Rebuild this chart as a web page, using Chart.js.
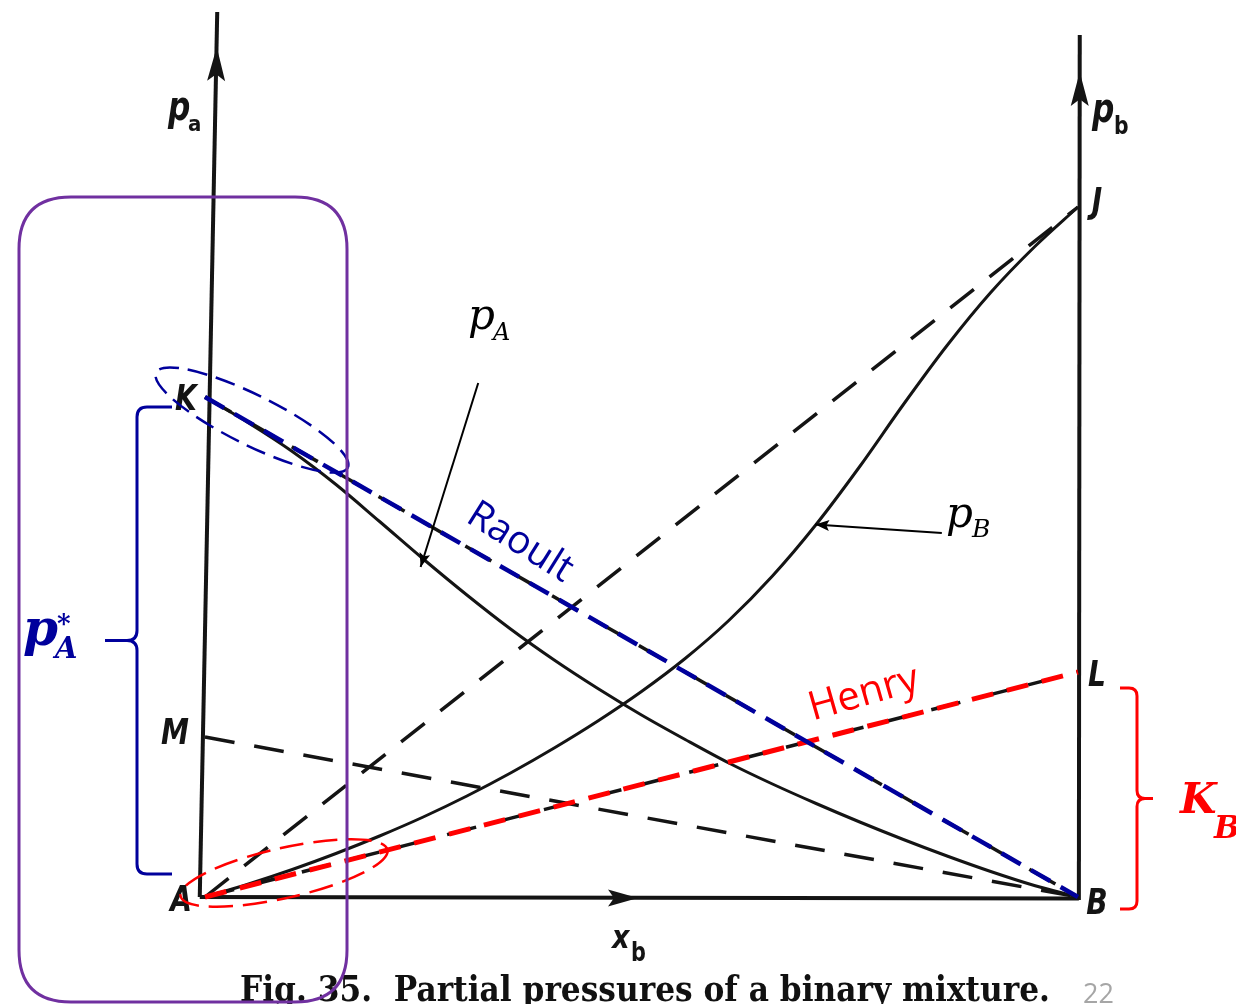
<!DOCTYPE html>
<html lang="en">
<head>
<meta charset="utf-8">
<title>Partial pressures of a binary mixture</title>
<script src="https://cdn.jsdelivr.net/npm/chart.js@4.4.1/dist/chart.umd.min.js"></script>
<style>
  html, body { margin: 0; padding: 0; background: #fff; overflow: hidden; }
  #kutu { width: 1236px; height: 1004px; }
</style>
</head>
<body>
<div id="kutu"><canvas id="grafik" width="1236" height="1004"></canvas></div>
<script>
// x_b bileşim noktaları (0 = saf A, 1 = saf B)
const xb = [0, 0.05, 0.1, 0.15, 0.2, 0.25, 0.3, 0.35, 0.4, 0.45, 0.5,
            0.55, 0.6, 0.65, 0.7, 0.75, 0.8, 0.85, 0.9, 0.95, 1];
// gerçek kısmi basınçlar (keyfi birim, K = 100)
const pA = [100, 94.8, 89.1, 82.5, 75.1, 67.6, 60.4, 53.6, 47.4, 41.7, 36.4,
            31.5, 26.8, 22.6, 18.7, 15.0, 11.5, 8.2, 5.1, 2.3, 0];
const pB = [0, 2.6, 5.5, 8.7, 12.2, 16.0, 20.2, 24.8, 29.8, 35.2, 41.1,
            47.7, 55.3, 64.2, 74.5, 86.1, 98.5, 110.3, 120.9, 130.0, 138];

// düz çizgiler: x_b = 0 ve x_b = 1 uçlarındaki değerler
const uclar = [0, 1];
const raoultA = [100, 0];   // K -> B
const raoultB = [0, 138];   // A -> J
const henryB = [0, 45];     // A -> L
const mDogrusu = [32, 0];   // M -> B

const noktala = (xs, ys) => xs.map((x, i) => ({ x: x, y: ys[i] }));

const siyah = '#141414';
const lacivert = '#00009c';
const kirmizi = '#ff0000';
const mor = '#7030a0';

function seri(veri, renk, kalinlik, kesik, sira, egri) {
    return {
        data: veri,
        borderColor: renk,
        borderWidth: kalinlik,
        borderDash: kesik || [],
        borderCapStyle: 'butt',
        pointRadius: 0,
        fill: false,
        order: sira,
        tension: egri ? 0.4 : 0,
        cubicInterpolationMode: egri ? 'monotone' : 'default'
    };
}

// --- yardımcı çizim fonksiyonları ---
function yaz(c, metin, x, y, font, renk, hiza, sx, aci) {
    c.save();
    c.translate(x, y);
    if (aci) c.rotate(aci * Math.PI / 180);
    c.scale(sx || 1, 1);
    c.font = font;
    c.fillStyle = renk;
    c.textAlign = hiza || 'left';
    c.textBaseline = 'alphabetic';
    c.fillText(metin, 0, 0);
    c.restore();
}

function okBasi(c, x, y, aci, boy, en, renk) {
    c.save();
    c.translate(x, y);
    c.rotate(aci);
    c.beginPath();
    c.moveTo(0, 0);
    c.lineTo(-boy, en / 2);
    c.lineTo(-boy * 0.8, 0);
    c.lineTo(-boy, -en / 2);
    c.closePath();
    c.fillStyle = renk;
    c.fill();
    c.restore();
}

function ok(c, x1, y1, x2, y2, renk) {
    c.save();
    c.beginPath();
    c.moveTo(x1, y1);
    c.lineTo(x2, y2);
    c.strokeStyle = renk;
    c.lineWidth = 2;
    c.stroke();
    c.restore();
    okBasi(c, x2, y2, Math.atan2(y2 - y1, x2 - x1), 14, 11, renk);
}

function elips(c, cx, cy, rx, ry, aci, renk, kesik) {
    c.save();
    c.beginPath();
    c.ellipse(cx, cy, rx, ry, aci * Math.PI / 180, 0, 2 * Math.PI);
    c.setLineDash(kesik);
    c.strokeStyle = renk;
    c.lineWidth = 2.5;
    c.stroke();
    c.restore();
}

// küme parantezi; yon = -1 ucu sola, yon = 1 ucu sağa bakar
function parantez(c, x, ust, alt, yon, kol, uc, r, renk) {
    const orta = (ust + alt) / 2;
    c.save();
    c.beginPath();
    c.moveTo(x - yon * kol, ust);
    c.lineTo(x - yon * r, ust);
    c.quadraticCurveTo(x, ust, x, ust + r);
    c.lineTo(x, orta - r);
    c.quadraticCurveTo(x, orta, x + yon * r, orta);
    c.lineTo(x + yon * uc, orta);
    c.moveTo(x + yon * r, orta);
    c.quadraticCurveTo(x, orta, x, orta + r);
    c.lineTo(x, alt - r);
    c.quadraticCurveTo(x, alt, x - yon * r, alt);
    c.lineTo(x - yon * kol, alt);
    c.strokeStyle = renk;
    c.lineWidth = 3;
    c.stroke();
    c.restore();
}

function yuvarlakKutu(c, x, y, w, h, r, renk) {
    c.save();
    c.beginPath();
    c.moveTo(x + r, y);
    c.lineTo(x + w - r, y);
    c.quadraticCurveTo(x + w, y, x + w, y + r);
    c.lineTo(x + w, y + h - r);
    c.quadraticCurveTo(x + w, y + h, x + w - r, y + h);
    c.lineTo(x + r, y + h);
    c.quadraticCurveTo(x, y + h, x, y + h - r);
    c.lineTo(x, y + r);
    c.quadraticCurveTo(x, y, x + r, y);
    c.strokeStyle = renk;
    c.lineWidth = 3;
    c.stroke();
    c.restore();
}

function cizgi(c, x1, y1, x2, y2, kalinlik, renk) {
    c.save();
    c.beginPath();
    c.moveTo(x1, y1);
    c.lineTo(x2, y2);
    c.lineWidth = kalinlik;
    c.strokeStyle = renk;
    c.stroke();
    c.restore();
}

// eksenler (datasetlerden önce) ve tüm etiketler (sonra)
const sekilEklentisi = {
    id: 'sekil',
    beforeDatasetsDraw(chart) {
        const c = chart.ctx;
        const X = v => chart.scales.x.getPixelForValue(v);
        const Y = v => chart.scales.y.getPixelForValue(v);

        // p_a ekseni (biraz eğik taranmış), p_b ekseni ve x_b ekseni
        cizgi(c, X(-0.006), Y(0), X(0.014), Y(177), 4, siyah);
        cizgi(c, X(1.001), Y(-0.6), X(1.002), Y(172.4), 4, siyah);
        cizgi(c, X(-0.006), Y(0), X(1.001), Y(-0.3), 4, siyah);

        okBasi(c, X(0.0135), Y(170), Math.atan2(Y(177) - Y(0), X(0.014) - X(-0.006)), 34, 18, siyah);
        okBasi(c, X(1.002), Y(165), -Math.PI / 2, 34, 18, siyah);
        okBasi(c, X(0.496), Y(-0.2), 0, 30, 17, siyah);
    },
    afterDatasetsDraw(chart) {
        const c = chart.ctx;
        const X = v => chart.scales.x.getPixelForValue(v);
        const Y = v => chart.scales.y.getPixelForValue(v);
        const harf = 'bold italic 36px "DejaVu Sans"';

        // nokta harfleri
        yaz(c, 'K', X(0) - 19, Y(raoultA[0]) + 13, harf, siyah, 'center', 0.78);
        yaz(c, 'M', X(0) - 30, Y(mDogrusu[0]) + 7, harf, siyah, 'center', 0.78);
        yaz(c, 'A', X(0) - 24, Y(0) + 14, harf, siyah, 'center', 0.78);
        yaz(c, 'B', X(1) + 19, Y(0) + 17, harf, siyah, 'center', 0.78);
        yaz(c, 'J', X(1) + 19, Y(raoultB[1]) + 6, harf, siyah, 'center', 0.78);
        yaz(c, 'L', X(1) + 19, Y(henryB[1]) + 14, harf, siyah, 'center', 0.78);

        // eksen adları
        yaz(c, 'p', 168, 120, 'bold italic 40px "DejaVu Sans"', siyah, 'left', 0.78);
        yaz(c, 'a', 188, 131, 'bold 22px "DejaVu Sans"', siyah, 'left', 0.9);
        yaz(c, 'p', 1092, 122, 'bold italic 40px "DejaVu Sans"', siyah, 'left', 0.78);
        yaz(c, 'b', 1114, 134, 'bold 24px "DejaVu Sans"', siyah, 'left', 0.85);
        yaz(c, 'x', 612, 948, 'bold italic 32px "DejaVu Sans"', siyah, 'left', 0.85);
        yaz(c, 'b', 631, 961, 'bold 26px "DejaVu Sans"', siyah, 'left', 0.8);

        // alt yazı ve sayfa numarası
        const baslik = 'Fig. 35.  Partial pressures of a binary mixture.';
        c.save();
        c.font = 'bold 36px "DejaVu Serif"';
        const genislik = c.measureText(baslik).width;
        c.restore();
        yaz(c, baslik, 240, 1001, 'bold 36px "DejaVu Serif"', '#111', 'left', 810 / genislik);
        yaz(c, '22', 1083, 1003, '27px "Open Sans"', '#a6a6a6', 'left');

        // p_A ve p_B işaretleri ile okları
        const serif = '"DejaVu Serif"';
        yaz(c, 'p', 468, 329, 'italic 42px ' + serif, '#000', 'left');
        yaz(c, 'A', 493, 340, 'italic 24px ' + serif, '#000', 'left');
        ok(c, X(0.313), Y(102.8), X(0.247), Y(66), '#000');

        yaz(c, 'p', 946, 527, 'italic 42px ' + serif, '#000', 'left');
        yaz(c, 'B', 972, 537, 'italic 25px ' + serif, '#000', 'left');
        ok(c, X(0.844), Y(72.8), X(0.699), Y(pB[14]), '#000');

        // Raoult ve Henry yazıları
        yaz(c, 'Raoult', 514, 552, '39px "Open Sans"', lacivert, 'center', 1, 32);
        yaz(c, 'Henry', 867, 705, '40px "Open Sans"', kirmizi, 'center', 1, -16);

        // uç bölgelerdeki kesikli elipsler
        elips(c, X(0.0538), Y(95.4), 107, 25, 26.4, lacivert, [20, 9]);
        elips(c, X(0.0905), Y(4.8), 106, 25, -12.7, kirmizi, [24, 10]);

        // p*_A parantezi (K..A) ve K_B parantezi (L..B)
        parantez(c, 137, Y(raoultA[0]) + 10, Y(0) - 23, -1, 35, 32, 10, lacivert);
        yaz(c, 'p', 23, 645, 'bold italic 50px ' + serif, lacivert, 'left');
        yaz(c, '*', 57, 632, 'bold 26px ' + serif, lacivert, 'left');
        yaz(c, 'A', 55, 658, 'bold italic 29px ' + serif, lacivert, 'left');

        parantez(c, 1137, Y(henryB[1]) + 16, Y(0) + 12, 1, 17, 16, 8, kirmizi);
        yaz(c, 'K', 1180, 813, 'bold italic 42px ' + serif, kirmizi, 'left');
        yaz(c, 'B', 1214, 838, 'bold italic 31px ' + serif, kirmizi, 'left');

        // saf A bölgesini çevreleyen mor kutu
        yuvarlakKutu(c, 19, 197, 328, 805, 52, mor);
    }
};

new Chart(document.getElementById('grafik'), {
    type: 'line',
    data: {
        datasets: [
            // renkli yasalar en üstte
            seri(noktala(uclar, raoultA), lacivert, 4.5, [22, 12], 1, false),
            seri(noktala(uclar, henryB), kirmizi, 5, [22, 14], 1, false),
            // gerçek eğriler
            seri(noktala(xb, pA), siyah, 3, null, 2, true),
            seri(noktala(xb, pB), siyah, 3, null, 2, true),
            // kitaptaki kesikli doğrular
            seri(noktala(uclar, raoultA), siyah, 3.5, [30, 20], 3, false),
            seri(noktala(uclar, raoultB), siyah, 3.5, [30, 20], 3, false),
            seri(noktala(uclar, henryB), siyah, 3.5, [30, 20], 3, false),
            seri(noktala(uclar, mDogrusu), siyah, 3.5, [30, 20], 3, false)
        ]
    },
    options: {
        responsive: false,
        animation: false,
        events: [],
        devicePixelRatio: 1,
        layout: { padding: 0 },
        plugins: { legend: { display: false }, tooltip: { enabled: false } },
        scales: {
            x: { type: 'linear', min: -0.23482, max: 1.18099, display: false },
            y: { type: 'linear', min: -21.4, max: 179.4, display: false }
        }
    },
    plugins: [sekilEklentisi]
});
</script>
</body>
</html>
